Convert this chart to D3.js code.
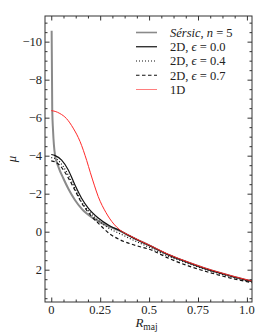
<!DOCTYPE html>
<html><head><meta charset="utf-8">
<script src="https://cdn.jsdelivr.net/npm/d3@7"></script>
<style>
body{margin:0;background:#fff}
svg{display:block}
</style>
</head><body>
<svg id="c" width="266" height="336"></svg>
<script>
// ---- data ----
const xTicks = [0, 0.25, 0.5, 0.75, 1.0];
const xTickLabels = ["0", "0.25", "0.5", "0.75", "1.0"];
const yTicks = [-10, -8, -6, -4, -2, 0, 2];
const yTickLabels = ["\u221210", "\u22128", "\u22126", "\u22124", "\u22122", "0", "2"];

const R_sersic  = [0.002, 0.005, 0.009, 0.019, 0.037, 0.062, 0.088, 0.121, 0.157, 0.208, 0.269, 0.351, 0.4, 0.5, 0.6, 0.7, 0.8, 0.9, 1.0, 1.03];
const mu_sersic = [-10.58, -6.4, -5.35, -4.04, -3.4, -2.8, -2.25, -1.67, -1.19, -0.75, -0.4, -0.04, 0.22, 0.72, 1.22, 1.62, 1.98, 2.28, 2.55, 2.62];

const R_e00  = [0, 0.02, 0.053, 0.087, 0.121, 0.155, 0.19, 0.24, 0.30, 0.35, 0.4, 0.45, 0.5, 0.6, 0.7, 0.8, 0.9, 1.0, 1.03];
const mu_e00 = [-4.06, -4.0, -3.77, -3.25, -2.46, -1.76, -1.23, -0.72, -0.3, -0.06, 0.22, 0.48, 0.72, 1.22, 1.62, 1.98, 2.28, 2.55, 2.62];

const R_e04  = [0, 0.03, 0.06, 0.09, 0.12, 0.15, 0.19, 0.24, 0.30, 0.35, 0.4, 0.5, 0.6, 0.7, 0.8, 0.9, 1.0, 1.03];
const mu_e04 = [-3.9, -3.8, -3.45, -2.92, -2.3, -1.65, -1.1, -0.6, -0.15, 0.1, 0.35, 0.82, 1.3, 1.68, 2.03, 2.32, 2.58, 2.65];

const R_e07  = [0, 0.03, 0.06, 0.09, 0.12, 0.15, 0.19, 0.24, 0.30, 0.35, 0.4, 0.45, 0.5, 0.6, 0.7, 0.8, 0.9, 1.0, 1.03];
const mu_e07 = [-3.73, -3.62, -3.28, -2.78, -2.2, -1.6, -1.0, -0.45, 0.12, 0.42, 0.62, 0.78, 0.92, 1.4, 1.8, 2.12, 2.4, 2.63, 2.69];

const R_1d  = [0, 0.02, 0.044, 0.078, 0.112, 0.147, 0.181, 0.2, 0.22, 0.24, 0.28, 0.32, 0.35, 0.4, 0.45, 0.5, 0.6, 0.7, 0.8, 0.9, 1.0, 1.03];
const mu_1d = [-6.37, -6.33, -6.22, -5.95, -5.45, -4.75, -3.75, -3.1, -2.45, -1.85, -1.0, -0.4, -0.1, 0.2, 0.46, 0.7, 1.2, 1.6, 1.96, 2.26, 2.53, 2.6];

const seriesNames = ["Sérsic", "2D, ϵ = 0.0", "2D, ϵ = 0.4", "2D, ϵ = 0.7", "1D"];

// ---- layout ----
const FONT = "'Liberation Serif', 'DejaVu Serif', serif";
const TXT = "#222";
const svg = d3.select("#c").attr("font-family", FONT);
const L = 45, R = 252, T = 16, B = 302;
const x = d3.scaleLinear().domain([-0.032, 1.026]).range([L, R]);
const y = d3.scaleLinear().domain([-11.35, 3.7]).range([T, B]);

const series = [
  {R: R_sersic, mu: mu_sersic, color: "#8a8a8a", w: 2.0, dash: null},
  {R: R_e00, mu: mu_e00, color: "#111", w: 1.2, dash: null},
  {R: R_e04, mu: mu_e04, color: "#111", w: 1.2, dash: "1,2"},
  {R: R_e07, mu: mu_e07, color: "#111", w: 1.2, dash: "3.5,2.5"},
  {R: R_1d, mu: mu_1d, color: "#ff2a2a", w: 1.0, dash: null}
];

svg.append("clipPath").attr("id", "clp").append("rect")
  .attr("x", L).attr("y", T).attr("width", R - L).attr("height", B - T);

const line = d3.line().x(d => x(d[0])).y(d => y(d[1])).curve(d3.curveMonotoneX);
const g = svg.append("g").attr("clip-path", "url(#clp)");
series.forEach(s => {
  g.append("path").datum(s.R.map((r, i) => [r, s.mu[i]]))
    .attr("d", line).attr("fill", "none")
    .attr("stroke", s.color).attr("stroke-width", s.w)
    .attr("stroke-dasharray", s.dash);
});

// ---- axes (ticks inward, all four sides) ----
const axCol = "#333";
const minorX = d3.range(0, 1.03, 0.0625).filter(v => !xTicks.some(t => Math.abs(t - v) < 1e-6));
const minorY = d3.range(-11, 3.6, 0.5).filter(v => !yTicks.some(t => Math.abs(t - v) < 1e-6));

function addAxis(axis, pos) {
  const a = svg.append("g").attr("transform", pos).call(axis);
  a.select(".domain").remove();
  a.selectAll("line").attr("stroke", axCol).attr("stroke-width", 1);
  a.selectAll("text").remove();
}
const bigT = 4.5, smT = 2.5;
addAxis(d3.axisTop(x).tickValues(xTicks).tickSize(bigT), `translate(0,${B})`);
addAxis(d3.axisTop(x).tickValues(minorX).tickSize(smT), `translate(0,${B})`);
addAxis(d3.axisBottom(x).tickValues(xTicks).tickSize(bigT), `translate(0,${T})`);
addAxis(d3.axisBottom(x).tickValues(minorX).tickSize(smT), `translate(0,${T})`);
addAxis(d3.axisRight(y).tickValues(yTicks).tickSize(bigT), `translate(${L},0)`);
addAxis(d3.axisRight(y).tickValues(minorY).tickSize(smT), `translate(${L},0)`);
addAxis(d3.axisLeft(y).tickValues(yTicks).tickSize(bigT), `translate(${R},0)`);
addAxis(d3.axisLeft(y).tickValues(minorY).tickSize(smT), `translate(${R},0)`);

svg.append("rect").attr("x", L).attr("y", T).attr("width", R - L).attr("height", B - T)
  .attr("fill", "none").attr("stroke", axCol).attr("stroke-width", 1);

function txt(sel) { return sel.attr("font-family", FONT).attr("fill", TXT); }

// tick labels
const fs = 12.5;
svg.append("g").selectAll("text").data(xTicks).join("text")
  .call(txt)
  .attr("x", d => x(d)).attr("y", B + 11.5).attr("text-anchor", "middle")
  .attr("font-size", fs).text((d, i) => xTickLabels[i]);
svg.append("g").selectAll("text").data(yTicks).join("text")
  .call(txt)
  .attr("x", L - 3).attr("y", d => y(d) + 4.3).attr("text-anchor", "end")
  .attr("font-size", fs).text((d, i) => yTickLabels[i]);

// axis titles
const xt = svg.append("text").call(txt).attr("x", (L + R) / 2 - 2).attr("y", 327).attr("text-anchor", "middle").attr("font-size", 13);
xt.append("tspan").attr("font-style", "italic").text("R");
xt.append("tspan").attr("font-size", 9.5).attr("dy", 2.5).text("maj");
svg.append("text").call(txt).attr("transform", `translate(16,${(T + B) / 2}) rotate(-90)`)
  .attr("text-anchor", "middle").attr("font-size", 13).attr("font-style", "italic").text("μ");

// legend
const ly0 = 32.5, ldy = 14.25;
series.forEach((s, i) => {
  const yy = ly0 + i * ldy;
  svg.append("line").attr("x1", 136).attr("x2", 157).attr("y1", yy).attr("y2", yy)
    .attr("stroke", s.color).attr("stroke-width", i === 0 ? 1.6 : s.w).attr("stroke-dasharray", s.dash)
    .attr("opacity", i === 4 ? 0.6 : 1);
  const t = svg.append("text").call(txt).attr("x", 170).attr("y", yy + 4.3).attr("font-size", fs);
  if (i === 0) {
    t.append("tspan").attr("font-style", "italic").text(seriesNames[0]);
    t.append("tspan").text(", ");
    t.append("tspan").attr("font-style", "italic").text("n");
    t.append("tspan").text(" = 5");
  } else if (i < 4) {
    const parts = seriesNames[i].split("ϵ");
    t.append("tspan").text(parts[0]);
    t.append("tspan").attr("font-style", "italic").text("ϵ");
    t.append("tspan").text(parts[1]);
  } else {
    t.text(seriesNames[i]);
  }
});
</script>
</body></html>
